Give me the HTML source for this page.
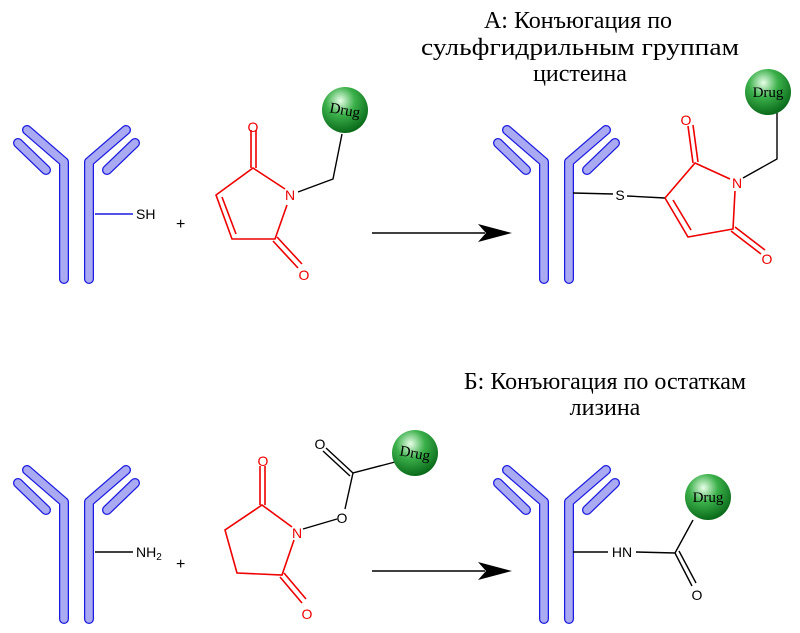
<!DOCTYPE html>
<html><head><meta charset="utf-8"><style>
html,body{margin:0;padding:0;background:#fff;}
svg{display:block;}
.t{font-family:"Liberation Serif",serif;font-size:24px;fill:#000;}
.a{font-family:"Liberation Sans",sans-serif;font-size:14px;}
.d{font-family:"Liberation Serif",serif;font-size:15px;fill:#000;}
</style></head><body>
<svg width="800" height="633" viewBox="0 0 800 633" xmlns="http://www.w3.org/2000/svg">
<defs>
<radialGradient id="g" cx="0.4" cy="0.3" r="0.7">
<stop offset="0" stop-color="#e8ffe8"/><stop offset="0.45" stop-color="#3bb04a"/><stop offset="1" stop-color="#0a6b1a"/>
</radialGradient>
<g id="ab" fill="none" stroke-linecap="round" stroke-linejoin="round">
<g stroke="#1a1ae0" stroke-width="10">
<path d="M27,130 L64,162 L64,279"/><path d="M18,143 L46,170"/>
<path d="M126,130 L89,162 L89,279"/><path d="M135,143 L107,170"/>
</g>
<g stroke="#a9aaf2" stroke-width="7.5">
<path d="M27,130 L64,162 L64,279"/><path d="M18,143 L46,170"/>
<path d="M126,130 L89,162 L89,279"/><path d="M135,143 L107,170"/>
</g>
</g>
</defs>
<text class="t" x="578" y="28" text-anchor="middle">А: Конъюгация по</text>
<text class="t" x="580" y="55" text-anchor="middle" textLength="318" lengthAdjust="spacingAndGlyphs">сульфгидрильным группам</text>
<text class="t" x="580" y="81" text-anchor="middle">цистеина</text>
<text class="t" x="605" y="389" text-anchor="middle">Б: Конъюгация по остаткам</text>
<text class="t" x="605" y="415" text-anchor="middle">лизина</text>

<!-- Row A -->
<use href="#ab"/>
<line x1="95" y1="214" x2="133" y2="214" stroke="#1a1ae0" stroke-width="1.5"/>
<text class="a" x="136" y="219">SH</text>
<text class="a" x="176" y="229" style="font-size:16px">+</text>
<g stroke="#e00" stroke-width="1.6" fill="none">
<path d="M285,189 L253,168 L216,195 L232,239 L275,239 L287,205"/>
<path d="M222,197 L236,234"/>
<path d="M251,168 L251,130 M256,168 L256,130"/>
<path d="M273,241 L298,268 M277,237 L302,264"/>
</g>
<text x="290" y="200" text-anchor="middle" class="a" fill="#e00">N</text>
<text x="253" y="132" text-anchor="middle" class="a" fill="#e00">O</text>
<text x="304" y="280" text-anchor="middle" class="a" fill="#e00">O</text>
<path d="M298,192 L333,179 L342,134" stroke="#000" stroke-width="1.4" fill="none"/>
<circle cx="345" cy="110" r="23" fill="url(#g)"/>
<text class="d" x="345" y="115" text-anchor="middle" transform="rotate(10 345 110)">Drug</text>

<line x1="372" y1="233" x2="485" y2="233" stroke="#000" stroke-width="1.6"/>
<path d="M478,224 L512,233 L478,242 L486,233 Z" fill="#000"/>

<use href="#ab" x="480"/>
<path d="M573,193 L613,194 M627,196 L665,198" stroke="#000" stroke-width="1.4" fill="none"/>
<text class="a" x="620" y="200" text-anchor="middle">S</text>
<g stroke="#e00" stroke-width="1.6" fill="none">
<path d="M665,198 L695,163 L730,179 M735,191 L733,229 L688,237 L665,198"/>
<path d="M673,200 L691,230"/>
<path d="M693,163 L688,126 M698,162 L693,125"/>
<path d="M731,231 L761,254 M735,227 L765,250"/>
</g>
<text class="a" x="737" y="188" text-anchor="middle" fill="#e00">N</text>
<text class="a" x="686" y="125" text-anchor="middle" fill="#e00">O</text>
<text class="a" x="767" y="264" text-anchor="middle" fill="#e00">O</text>
<path d="M743,178 L777,159 L777,113" stroke="#000" stroke-width="1.4" fill="none"/>
<circle cx="768" cy="92" r="23" fill="url(#g)"/>
<text class="d" x="768" y="97" text-anchor="middle">Drug</text>

<!-- Row B -->
<use href="#ab" y="340"/>
<line x1="95" y1="552" x2="133" y2="552" stroke="#000" stroke-width="1.4"/>
<text class="a" x="136" y="557">NH<tspan style="font-size:10px" dy="3">2</tspan></text>
<text class="a" x="176" y="569" style="font-size:16px">+</text>
<g stroke="#e00" stroke-width="1.6" fill="none">
<path d="M292,527 L262,505 L225,530 L237,573 L282,575 L294,540"/>
<path d="M260,505 L260,466 M265,505 L265,466"/>
<path d="M280,577 L302,603 M284,573 L306,599"/>
</g>
<text class="a" x="297" y="538" text-anchor="middle" fill="#e00">N</text>
<text class="a" x="263" y="466" text-anchor="middle" fill="#e00">O</text>
<text class="a" x="307" y="619" text-anchor="middle" fill="#e00">O</text>
<path d="M303,529 L337,519 M345,509 L353,473 L395,462 M353,473 L326,448 M350,476 L323,451" stroke="#000" stroke-width="1.4" fill="none"/>
<text class="a" x="342" y="523" text-anchor="middle">O</text>
<text class="a" x="320" y="449" text-anchor="middle">O</text>
<circle cx="415" cy="453" r="23" fill="url(#g)"/>
<text class="d" x="415" y="458" text-anchor="middle" transform="rotate(10 415 453)">Drug</text>

<line x1="372" y1="571" x2="485" y2="571" stroke="#000" stroke-width="1.6"/>
<path d="M478,562 L512,571 L478,580 L486,571 Z" fill="#000"/>

<use href="#ab" x="480" y="340"/>
<path d="M573,552 L608,552 M636,552 L675,553 L693,520 M675,553 L692,586 M679,551 L696,583" stroke="#000" stroke-width="1.4" fill="none"/>
<text class="a" x="622" y="557" text-anchor="middle">HN</text>
<text class="a" x="697" y="600" text-anchor="middle">O</text>
<circle cx="708" cy="497" r="23" fill="url(#g)"/>
<text class="d" x="708" y="502" text-anchor="middle">Drug</text>
</svg>
</body></html>
